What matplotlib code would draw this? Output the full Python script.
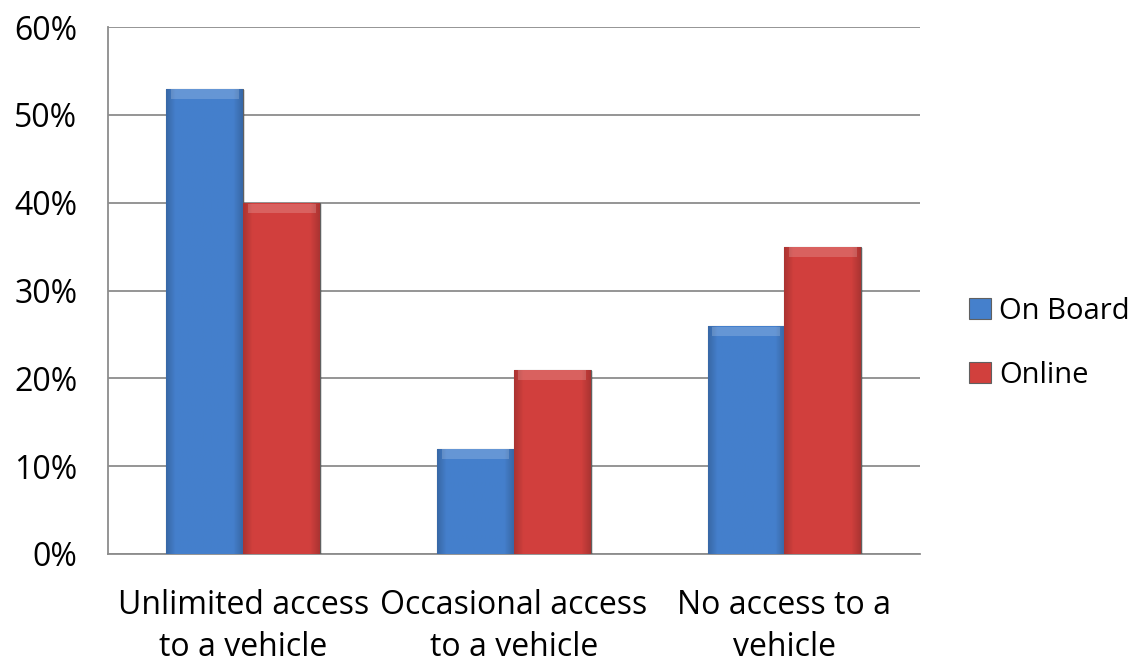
import numpy as np
import matplotlib.pyplot as plt
from matplotlib.patches import Rectangle

categories = ["Unlimited access\nto a vehicle", "Occasional access\nto a vehicle", "No access to a\nvehicle"]
on_board = [0.53, 0.12, 0.26]
online = [0.40, 0.21, 0.35]
series_names = ["On Board", "Online"]
yticks = [0, 0.1, 0.2, 0.3, 0.4, 0.5, 0.6]

plt.rcParams['font.family'] = ['Open Sans', 'DejaVu Sans']

fig = plt.figure(figsize=(11.45, 6.64), dpi=100)
ax = fig.add_axes([0.0943, 0.1657, 0.709, 0.7936])

x = np.arange(len(categories))
w = 0.284
blue = np.array([0.27, 0.50, 0.80])
red = np.array([0.82, 0.25, 0.24])


def bevel_image(base, ny=120, nx=60):
    # soft bevel: darker sides
    yy, xx = np.mgrid[0:ny, 0:nx]
    fx = xx / (nx - 1)
    edge_x = np.minimum(fx, 1 - fx)
    shade = np.ones((ny, nx))
    shade -= 0.18 * np.clip(1 - edge_x / 0.12, 0, 1)
    img = np.empty((ny, nx, 3))
    for c in range(3):
        img[..., c] = base[c] * shade
    return img


def draw_bars(xs, vals, base):
    bars = ax.bar(xs, vals, w, color=base, edgecolor='#606060', linewidth=0.8, zorder=3)
    for b in bars:
        x0, y0, bw, bh = b.get_x(), b.get_y(), b.get_width(), b.get_height()
        im = ax.imshow(bevel_image(base), extent=[x0, x0 + bw, y0, y0 + bh],
                       aspect='auto', zorder=3.5, interpolation='bilinear')
        im.set_clip_path(b)
        # lighter rim along the top of the bar
        ax.add_patch(Rectangle((x0 + bw * 0.06, y0 + bh - 0.012), bw * 0.88, 0.011,
                               color='white', alpha=0.18, zorder=3.6, linewidth=0))
        # drop shadow to the right
        ax.add_patch(Rectangle((x0 + 0.008, y0), bw, bh - 0.002, color='#000000',
                               alpha=0.12, zorder=2.9, linewidth=0))
    return bars


b1 = draw_bars(x - w / 2, on_board, blue)
b2 = draw_bars(x + w / 2, online, red)

ax.set_xlim(-0.5, len(categories) - 0.5)
ax.set_ylim(0, 0.6)
ax.set_yticks(yticks)
ax.set_yticklabels(["{:.0f}%".format(v * 100) for v in yticks], fontsize=23)
ax.set_xticks(x)
ax.set_xticklabels(categories, fontsize=23, linespacing=1.38)
ax.tick_params(axis='x', length=0, pad=25)
ax.tick_params(axis='y', length=0, pad=22)

ax.grid(axis='y', color='#8c8c8c', linewidth=1.3, zorder=0)
ax.set_axisbelow(True)
for s in ['top', 'right']:
    ax.spines[s].set_visible(False)
for s in ['left', 'bottom']:
    ax.spines[s].set_color('#8c8c8c')
    ax.spines[s].set_linewidth(1.3)

leg = ax.legend([b1[0], b2[0]], series_names, loc='center left',
                bbox_to_anchor=(1.028, 0.40), frameon=False, fontsize=21,
                handlelength=0.75, handleheight=0.75, handletextpad=0.3,
                labelspacing=1.2)

fig.savefig("out.png", dpi=100)
